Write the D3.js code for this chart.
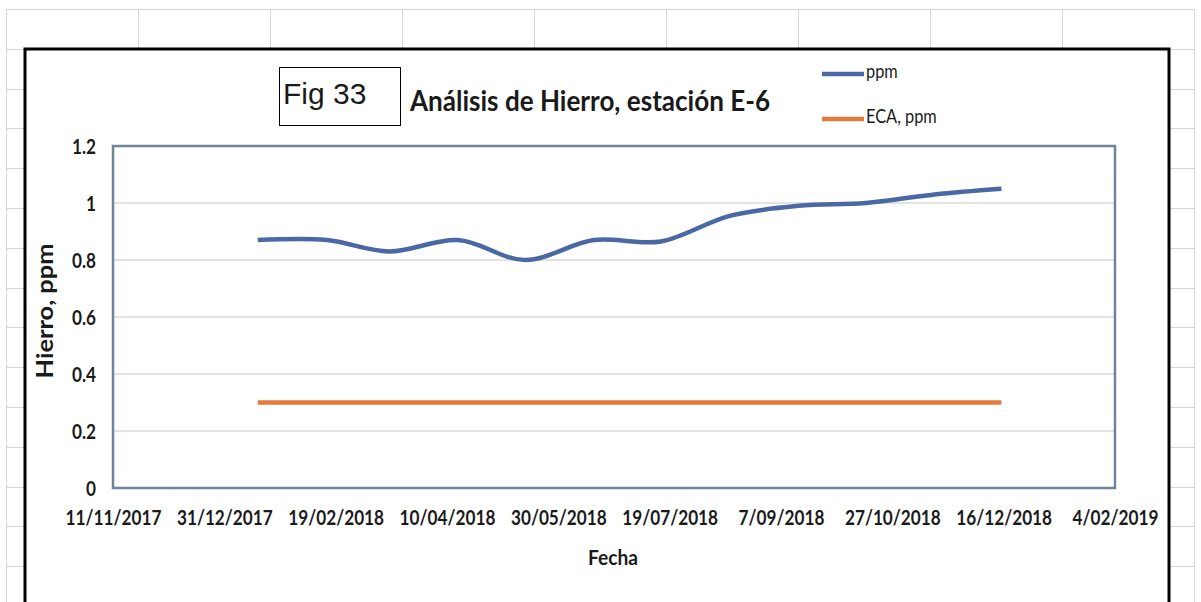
<!DOCTYPE html>
<meta charset="utf-8">
<style>
body{ margin:0; background:#fff; }
text{ font-family: Lato, "Open Sans", sans-serif; fill:#1a1a1a; }
text.tick{ font-size:20px; font-weight:bold; }
text.atitle{ font-weight:bold; }
text.leg{ font-size:19px; }
</style>
<body>
<div id="chart"></div>
<script src="https://cdn.jsdelivr.net/npm/d3@7"></script>
<script>
// fechas de muestreo y valores de hierro (ppm)
var fechas = ["15/01/2018","15/02/2018","15/03/2018","15/04/2018","15/05/2018","15/06/2018",
              "15/07/2018","15/08/2018","15/09/2018","15/10/2018","15/11/2018","15/12/2018"];
var ppm = [0.87, 0.87, 0.83, 0.87, 0.80, 0.87, 0.865, 0.955, 0.99, 1.0, 1.03, 1.05];
var eca = [0.3, 0.3, 0.3, 0.3, 0.3, 0.3, 0.3, 0.3, 0.3, 0.3, 0.3, 0.3];
var yTicks = [0, 0.2, 0.4, 0.6, 0.8, 1, 1.2];
var xTickLabels = ["11/11/2017","31/12/2017","19/02/2018","10/04/2018","30/05/2018",
                   "19/07/2018","7/09/2018","27/10/2018","16/12/2018","4/02/2019"];

var W = 1201, H = 602;
var plot = {left:113, right:1115, top:146, bottom:488};
var parse = d3.timeParse("%d/%m/%Y");
var fmt = function(d){ return d.getDate()+"/"+d3.timeFormat("%m/%Y")(d); };
var sx = 0.86; // letras estrechas como Calibri

var svg = d3.select("#chart").append("svg").attr("width", W).attr("height", H);

// fondo de hoja de calculo
var grid = svg.append("g").attr("stroke","#d6d6d6").attr("stroke-width",1);
grid.selectAll(".vcol").data(d3.range(6, 1200, 132)).enter().append("line")
	.attr("x1",function(d){return d+0.5;}).attr("x2",function(d){return d+0.5;})
	.attr("y1",9).attr("y2",H);
grid.selectAll(".hrow").data(d3.range(9, H, 39.8)).enter().append("line")
	.attr("x1",6).attr("x2",1194)
	.attr("y1",function(d){return Math.round(d)+0.5;}).attr("y2",function(d){return Math.round(d)+0.5;});

// area del grafico
svg.append("rect").attr("x",25).attr("y",49).attr("width",1144).attr("height",H)
	.attr("fill","#fff").attr("stroke","#000").attr("stroke-width",3);

var x = d3.scaleTime().domain([parse("11/11/2017"), parse("4/02/2019")]).range([plot.left, plot.right]);
var y = d3.scaleLinear().domain([0, 1.2]).range([plot.bottom, plot.top]);

// lineas de cuadricula
svg.append("g").selectAll("line").data(yTicks.slice(1,-1)).enter().append("line")
	.attr("x1",plot.left).attr("x2",plot.right)
	.attr("y1",function(d){return y(d);}).attr("y2",function(d){return y(d);})
	.attr("stroke","#d9d9d9").attr("stroke-width",1.5);

svg.append("rect").attr("x",plot.left).attr("y",plot.top)
	.attr("width",plot.right-plot.left).attr("height",plot.bottom-plot.top)
	.attr("fill","none").attr("stroke","#6f839c").attr("stroke-width",2.5);

// eje y
var yAxis = d3.axisLeft(y).tickValues(yTicks).tickSize(0).tickPadding(17/sx)
	.tickFormat(function(d){ return d3.format("")(d); });
var gy = svg.append("g").attr("transform","translate("+plot.left+",0)").call(yAxis);
gy.select(".domain").remove();
gy.selectAll("text").attr("class","tick").attr("dy","0.36em").attr("fill","#1a1a1a")
	.attr("transform","scale("+sx+",1)");

// eje x
var xAxis = d3.axisBottom(x).tickValues(xTickLabels.map(parse)).tickSize(0).tickPadding(37)
	.tickFormat(fmt);
var gx = svg.append("g").attr("transform","translate(0,"+plot.bottom+")").call(xAxis);
gx.select(".domain").remove();
gx.selectAll("text").attr("class","tick").attr("dy","0").attr("fill","#1a1a1a")
	.attr("transform","scale("+sx+",1)");

// series
var data = fechas.map(function(f,i){ return {date: parse(f), ppm: ppm[i], eca: eca[i]}; });
var linePpm = d3.line().x(function(d){return x(d.date);}).y(function(d){return y(d.ppm);})
	.curve(d3.curveCatmullRom.alpha(0.5));
var lineEca = d3.line().x(function(d){return x(d.date);}).y(function(d){return y(d.eca);});

svg.append("path").datum(data).attr("d", lineEca)
	.attr("fill","none").attr("stroke","#e37b3a").attr("stroke-width",4.5);
svg.append("path").datum(data).attr("d", linePpm)
	.attr("fill","none").attr("stroke","#4a68a3").attr("stroke-width",4.5);

// titulos
svg.append("text").attr("class","atitle").attr("x",410).attr("y",111)
	.attr("font-size",29).attr("textLength",360).attr("lengthAdjust","spacingAndGlyphs")
	.text("Análisis de Hierro, estación E-6");
svg.append("text").attr("class","atitle")
	.attr("transform","translate(53,311) rotate(-90)").attr("text-anchor","middle")
	.attr("font-size",22).attr("textLength",135).attr("lengthAdjust","spacingAndGlyphs")
	.text("Hierro, ppm");
svg.append("text").attr("class","atitle").attr("x",613).attr("y",565).attr("text-anchor","middle")
	.attr("font-size",21).attr("textLength",50).attr("lengthAdjust","spacingAndGlyphs").text("Fecha");

// caja Fig 33
svg.append("rect").attr("x",279.5).attr("y",67.5).attr("width",121).attr("height",58)
	.attr("fill","#fff").attr("stroke","#000").attr("stroke-width",1);
svg.append("text").attr("x",283).attr("y",104)
	.style("font-family","'Liberation Sans', Arial, sans-serif").attr("font-size",30).text("Fig 33");

// leyenda
var legend = [{name:"ppm", color:"#4a68a3", y:74}, {name:"ECA, ppm", color:"#e37b3a", y:119}];
var lg = svg.append("g").selectAll("g").data(legend).enter().append("g");
lg.append("line").attr("x1",822).attr("x2",864)
	.attr("y1",function(d){return d.y;}).attr("y2",function(d){return d.y;})
	.attr("stroke",function(d){return d.color;}).attr("stroke-width",4.5);
lg.append("text").attr("class","leg").attr("x",866).attr("y",function(d){return d.y+4;})
	.attr("transform",function(d){return "translate("+(866*(1-sx))+",0) scale("+sx+",1)";})
	.text(function(d){return d.name;});
</script>
</body>
